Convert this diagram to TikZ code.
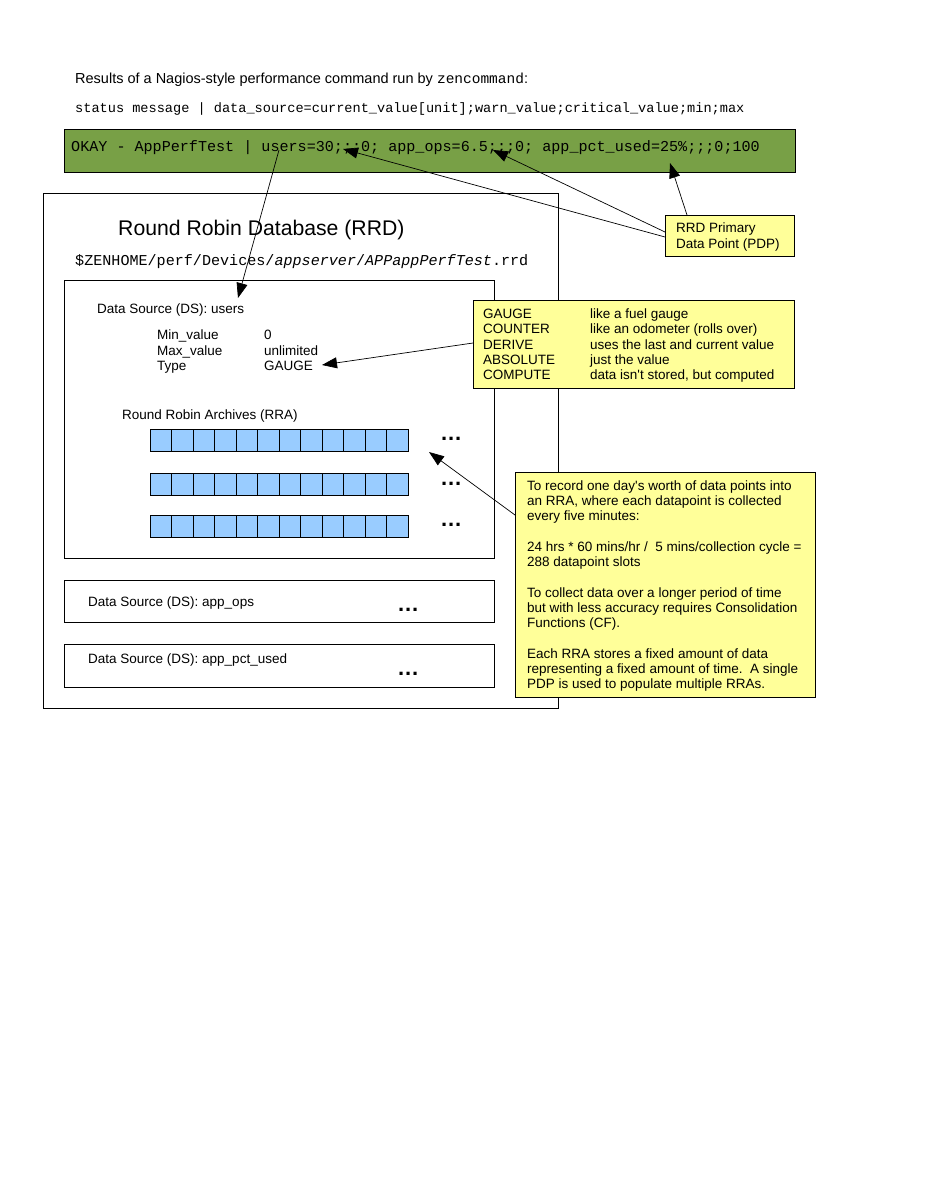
\documentclass[tikz,border=0pt]{standalone}
\usepackage{fontspec}
\setmainfont{Liberation Sans}
\setmonofont{Liberation Mono}
\usetikzlibrary{arrows.meta}
\definecolor{okgreen}{RGB}{120,160,70}
\definecolor{noteyellow}{RGB}{255,255,153}
\definecolor{cellblue}{RGB}{153,204,255}
\tikzset{
  txt/.style={anchor=base west, inner sep=0pt, font=\fontsize{13.5}{15.5}\selectfont},
  ttxt/.style={anchor=base west, inner sep=0pt, font=\ttfamily\fontsize{#1}{#1}\selectfont},
  frame/.style={draw=black, line width=1pt, anchor=north west, inner sep=0pt, outer sep=0pt},
  notebox/.style={frame, fill=noteyellow},
  rracell/.style={frame, fill=cellblue, minimum width=21.5pt, minimum height=22pt},
  ptr/.style={draw=black, line width=0.7pt, -{Triangle[length=15pt,width=11pt]}},
  dotsnode/.style={anchor=base west, inner sep=0pt, font=\bfseries\fontsize{22}{22}\selectfont},
}
\newcommand{\dddots}{.\hspace{0.8pt}.\hspace{0.8pt}.}
\begin{document}
\begin{tikzpicture}[x=1pt,y=-1pt]
\useasboundingbox (0,0) rectangle (927,1199);
% header
\node[txt, font=\fontsize{14.5}{16}\selectfont] (heading) at (75,83) {Results of a Nagios-style performance command run by {\ttfamily zencommand}:};
\node[ttxt=13.6] (format) at (75,112) {status message | data\_source=current\_value[unit];warn\_value;critical\_value;min;max};
\node[frame, fill=okgreen, minimum width=731pt, minimum height=43pt] (status) at (64,129) {};
\node[ttxt=15.1] (statustext) at (71,151) {OKAY - AppPerfTest | users=30;;;0; app\_ops=6.5;;;0; app\_pct\_used=25\%;;;0;100};
% RRD
\node[frame, minimum width=515pt, minimum height=515pt] (rrd) at (43,193) {};
\node[txt, font=\fontsize{21.2}{25}\selectfont] (rrdtitle) at (118,235) {Round Robin Database (RRD)};
\node[ttxt=15.1] (rrdpath) at (75,265) {\$ZENHOME/perf/Devices/\textit{appserver}/\textit{APPappPerfTest}.rrd};
% DS users
\node[frame, minimum width=430pt, minimum height=278pt] (dsusers) at (64,280) {};
\node[txt] (dsuserslabel) at (97,313) {Data Source (DS): users};
\node[txt] (minlabel) at (157,339) {Min\_value};
\node[txt] (minval) at (264,339) {0};
\node[txt] (maxlabel) at (157,355) {Max\_value};
\node[txt] (maxval) at (264,355) {unlimited};
\node[txt] (typelabel) at (157,370) {Type};
\node[txt] (typeval) at (264,370) {GAUGE};
\node[txt] (rralabel) at (122,419) {Round Robin Archives (RRA)};
\foreach \r/\yy in {1/429,2/473,3/515} {
  \foreach \i in {0,...,11} {
    \node[rracell] (rra\r-\i) at ({150+\i*21.5},\yy) {};
  }
}
\node[dotsnode] (rradots1) at (441,440) {\dddots};
\node[dotsnode] (rradots2) at (441,485) {\dddots};
\node[dotsnode] (rradots3) at (441,526) {\dddots};
% other DS
\node[frame, minimum width=430pt, minimum height=42pt] (dsops) at (64,580) {};
\node[txt] (dsopslabel) at (88,606) {Data Source (DS): app\_ops};
\node[dotsnode] (opsdots) at (398,611) {\dddots};
\node[frame, minimum width=430pt, minimum height=43pt] (dspct) at (64,644) {};
\node[txt] (dspctlabel) at (88,663) {Data Source (DS): app\_pct\_used};
\node[dotsnode] (pctdots) at (398,675) {\dddots};
% types box
\node[notebox, minimum width=321pt, minimum height=88pt] (types) at (473,300) {};
\node[txt] (t1a) at (483,318) {GAUGE};
\node[txt] (t1b) at (590,318) {like a fuel gauge};
\node[txt] (t2a) at (483,333) {COUNTER};
\node[txt] (t2b) at (590,333) {like an odometer (rolls over)};
\node[txt] (t3a) at (483,349) {DERIVE};
\node[txt] (t3b) at (590,349) {uses the last and current value};
\node[txt] (t4a) at (483,364) {ABSOLUTE};
\node[txt] (t4b) at (590,364) {just the value};
\node[txt] (t5a) at (483,379) {COMPUTE};
\node[txt] (t5b) at (590,379) {data isn\textquotesingle t stored, but computed};
% PDP box
\node[notebox, minimum width=129pt, minimum height=41pt] (pdp) at (665,215) {};
\node[txt] (pdp1) at (676,232) {RRD Primary};
\node[txt] (pdp2) at (676,248) {Data Point (PDP)};
% note box
\node[notebox, minimum width=300pt, minimum height=225pt] (note) at (515,472) {};
\node[txt] (n1) at (527,490) {To record one day\textquotesingle s worth of data points into};
\node[txt] (n2) at (527,505.3) {an RRA, where each datapoint is collected};
\node[txt] (n3) at (527,520.6) {every five minutes:};
\node[txt] (n4) at (527,551.2) {24 hrs * 60 mins/hr /\ \ 5 mins/collection cycle =};
\node[txt] (n5) at (527,566.5) {288 datapoint slots};
\node[txt] (n6) at (527,597.1) {To collect data over a longer period of time};
\node[txt] (n7) at (527,612.4) {but with less accuracy requires Consolidation};
\node[txt] (n8) at (527,627.7) {Functions (CF).};
\node[txt] (n9) at (527,658.3) {Each RRA stores a fixed amount of data};
\node[txt] (n10) at (527,673.6) {representing a fixed amount of time.\ \ A single};
\node[txt] (n11) at (527,688.9) {PDP is used to populate multiple RRAs.};
% connectors
\coordinate (usersrc) at (279,150);
\coordinate (userstip) at (238,298);
\coordinate (tipusers) at (343,149);
\coordinate (tipops) at (493,150);
\coordinate (tippct) at (670,163);
\coordinate (tipgauge) at (322,365);
\coordinate (tiprra) at (429,452);
\draw[ptr] (usersrc) -- (userstip);
\draw[ptr] ([yshift=-1.5pt]pdp.west) -- (tipusers);
\draw[ptr] ([yshift=3.5pt]pdp.west) -- (tipops);
\draw[ptr] ([xshift=22pt]pdp.north west) -- (tippct);
\draw[ptr] ([yshift=1pt]types.west) -- (tipgauge);
\draw[ptr] ([yshift=-43pt]note.north west) -- (tiprra);
\end{tikzpicture}
\end{document}
